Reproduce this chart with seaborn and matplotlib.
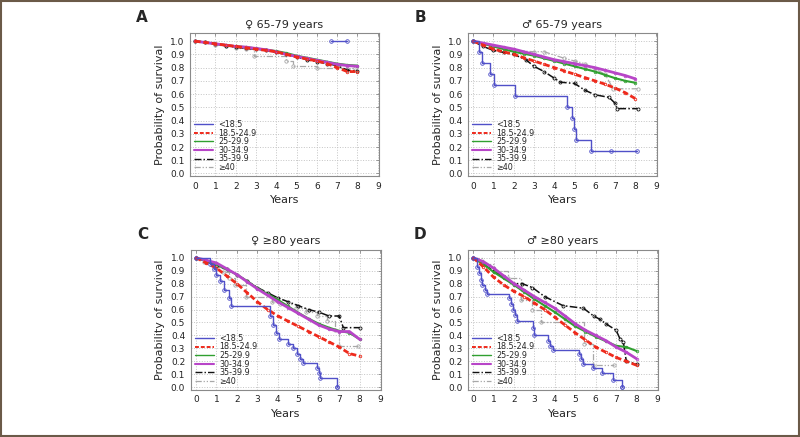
import matplotlib
matplotlib.use("Agg")
import matplotlib.pyplot as plt
from matplotlib.lines import Line2D
from matplotlib.patches import Rectangle
import seaborn as sns

# BMI groups, legend text
groups = ["<18.5", "18.5-24.9", "25-29.9", "30-34.9", "35-39.9", "\u226540"]

# shared half-year grid for the large groups
grid = [0.0, 0.5, 1.0, 1.5, 2.0, 2.5, 3.0, 3.5, 4.0, 4.5, 5.0, 5.5, 6.0, 6.5, 7.0, 7.5, 8.0]

# ---- A: women 65-79
a_blue_t = [6.7, 7.5]
a_blue_s = [1.0, 1.0]
a_red = [1.00, 0.99, 0.98, 0.97, 0.96, 0.95, 0.94, 0.93, 0.92, 0.90, 0.88, 0.865, 0.85, 0.83, 0.80, 0.77, 0.77]
a_green = [1.00, 0.99, 0.98, 0.97, 0.96, 0.955, 0.945, 0.935, 0.925, 0.91, 0.89, 0.875, 0.86, 0.845, 0.83, 0.82, 0.815]
a_magenta = [1.00, 0.99, 0.98, 0.97, 0.96, 0.955, 0.945, 0.935, 0.92, 0.90, 0.885, 0.87, 0.855, 0.84, 0.825, 0.815, 0.81]
a_black = [1.00, 0.99, 0.98, 0.965, 0.955, 0.945, 0.94, 0.93, 0.915, 0.90, 0.88, 0.86, 0.845, 0.83, 0.815, 0.78, 0.775]
a_gray_t = [0.0, 0.5, 1.0, 1.5, 2.0, 2.5, 2.9, 4.5, 4.8, 6.0, 7.9]
a_gray_s = [1.0, 0.99, 0.97, 0.96, 0.95, 0.94, 0.89, 0.85, 0.81, 0.795, 0.795]

# ---- B: men 65-79
b_blue_t = [0.0, 0.3, 0.42, 0.81, 1.04, 2.05, 4.64, 4.89, 4.97, 5.05, 5.83, 6.78, 8.08]
b_blue_s = [1.0, 0.917, 0.833, 0.75, 0.667, 0.583, 0.50, 0.417, 0.333, 0.25, 0.167, 0.167, 0.167]
b_red = [1.00, 0.97, 0.94, 0.92, 0.90, 0.875, 0.85, 0.825, 0.80, 0.775, 0.75, 0.725, 0.70, 0.675, 0.645, 0.61, 0.565]
b_green = [1.00, 0.98, 0.96, 0.94, 0.92, 0.905, 0.89, 0.87, 0.85, 0.83, 0.81, 0.79, 0.77, 0.745, 0.72, 0.70, 0.685]
b_magenta = [1.00, 0.985, 0.97, 0.955, 0.94, 0.92, 0.90, 0.88, 0.86, 0.845, 0.83, 0.815, 0.80, 0.78, 0.76, 0.74, 0.715]
b_black_t = [0.0, 0.5, 1.0, 1.5, 2.0, 2.6, 3.0, 3.5, 4.0, 4.3, 5.0, 5.5, 6.0, 6.7, 7.0, 7.1, 8.1]
b_black_s = [1.0, 0.96, 0.93, 0.915, 0.90, 0.86, 0.81, 0.77, 0.72, 0.69, 0.68, 0.63, 0.595, 0.575, 0.53, 0.49, 0.49]
b_gray_t = [0.0, 1.0, 2.0, 3.0, 3.5, 4.5, 5.0, 5.5, 6.0, 6.5, 6.9, 8.1]
b_gray_s = [1.0, 0.96, 0.93, 0.92, 0.92, 0.87, 0.85, 0.83, 0.79, 0.75, 0.64, 0.64]

# ---- C: women >=80
c_blue_t = [0.0, 0.7, 0.9, 1.0, 1.2, 1.35, 1.6, 1.7, 3.6, 3.75, 3.9, 4.05, 4.5, 4.75, 4.95, 5.1, 5.25, 5.9, 6.0, 6.05, 6.9, 6.9]
c_blue_s = [1.0, 0.95, 0.91, 0.87, 0.82, 0.75, 0.69, 0.63, 0.55, 0.48, 0.42, 0.37, 0.33, 0.30, 0.26, 0.22, 0.19, 0.15, 0.11, 0.07, 0.0, 0.0]
c_red = [1.00, 0.96, 0.92, 0.86, 0.80, 0.73, 0.66, 0.60, 0.55, 0.51, 0.47, 0.43, 0.39, 0.35, 0.31, 0.26, 0.24]
c_green = [1.00, 0.975, 0.95, 0.91, 0.87, 0.82, 0.765, 0.72, 0.675, 0.625, 0.575, 0.53, 0.49, 0.46, 0.435, 0.42, 0.37]
c_magenta = [1.00, 0.98, 0.96, 0.915, 0.87, 0.815, 0.76, 0.71, 0.66, 0.615, 0.57, 0.525, 0.48, 0.45, 0.43, 0.43, 0.37]
c_black_t = [0.0, 0.5, 1.0, 1.5, 2.0, 2.5, 3.0, 3.5, 4.0, 4.5, 5.0, 5.5, 6.0, 6.5, 7.0, 7.2, 8.0]
c_black_s = [1.0, 0.97, 0.94, 0.91, 0.87, 0.82, 0.77, 0.73, 0.69, 0.66, 0.63, 0.60, 0.58, 0.55, 0.55, 0.46, 0.46]
c_gray_t = [0.0, 0.4, 0.9, 1.3, 1.6, 1.9, 2.45, 3.7, 4.1, 4.9, 5.4, 5.9, 6.4, 6.8, 7.0, 7.9]
c_gray_s = [1.0, 0.97, 0.93, 0.89, 0.84, 0.79, 0.70, 0.66, 0.64, 0.61, 0.58, 0.55, 0.51, 0.44, 0.32, 0.32]

# ---- D: men >=80
d_blue_t = [0.0, 0.2, 0.28, 0.37, 0.45, 0.57, 0.7, 1.78, 1.87, 1.95, 2.03, 2.17, 2.92, 3.0, 3.67, 3.78, 3.9,
            5.2, 5.28, 5.37, 5.87, 6.3, 6.87, 7.3, 7.3]
d_blue_s = [1.0, 0.93, 0.88, 0.83, 0.79, 0.75, 0.72, 0.69, 0.64, 0.60, 0.56, 0.51, 0.46, 0.40, 0.36, 0.32, 0.29,
            0.26, 0.22, 0.18, 0.145, 0.11, 0.055, 0.0, 0.0]
d_red = [1.00, 0.93, 0.85, 0.79, 0.74, 0.70, 0.65, 0.60, 0.54, 0.48, 0.42, 0.365, 0.31, 0.27, 0.23, 0.20, 0.17]
d_green = [1.00, 0.95, 0.89, 0.84, 0.79, 0.735, 0.68, 0.63, 0.58, 0.525, 0.47, 0.43, 0.39, 0.355, 0.32, 0.31, 0.28]
d_magenta = [1.00, 0.97, 0.92, 0.86, 0.80, 0.75, 0.70, 0.655, 0.61, 0.55, 0.49, 0.44, 0.40, 0.36, 0.31, 0.27, 0.22]
d_black_t = [0.0, 0.5, 1.0, 1.5, 2.0, 2.4, 2.9, 3.5, 4.4, 5.4, 5.9, 6.2, 6.5, 7.0, 7.2, 7.35, 7.5, 8.0]
d_black_s = [1.0, 0.95, 0.90, 0.85, 0.80, 0.80, 0.77, 0.70, 0.63, 0.61, 0.55, 0.525, 0.49, 0.44, 0.37, 0.35, 0.20, 0.18]
d_gray_t = [0.0, 0.5, 1.0, 1.7, 2.35, 2.9, 3.3, 5.45, 5.85, 6.9]
d_gray_s = [1.0, 0.95, 0.90, 0.84, 0.67, 0.60, 0.50, 0.33, 0.17, 0.17]

colors = ["#5050c8", "#ee2a1c", "#30a030", "#b845c8", "#111111", "#a8a8a8"]
dashes = [(None, None), (2.0, 1.0), (None, None), (None, None), (5, 1.5, 1, 1.5), (5, 1.5, 1, 1.5, 1, 1.5)]
widths = [1.0, 2.0, 1.5, 2.0, 1.1, 0.9]
leg_widths = [1.0, 1.4, 1.0, 1.5, 1.0, 0.9]
msizes = [2.6, 1.8, 1.8, 1.8, 2.2, 2.4]

panels = [
    ("A", "\u2640 65-79 years", [0.2375, 0.597, 0.236, 0.327],
     [(a_blue_t, a_blue_s, True), (grid, a_red, False), (grid, a_green, False),
      (grid, a_magenta, False), (grid, a_black, False), (a_gray_t, a_gray_s, True)]),
    ("B", "\u2642 65-79 years", [0.585, 0.597, 0.236, 0.327],
     [(b_blue_t, b_blue_s, True), (grid, b_red, False), (grid, b_green, False),
      (grid, b_magenta, False), (b_black_t, b_black_s, False), (b_gray_t, b_gray_s, False)]),
    ("C", "\u2640 \u226580 years", [0.2385, 0.108, 0.238, 0.32],
     [(c_blue_t, c_blue_s, True), (grid, c_red, False), (grid, c_green, False),
      (grid, c_magenta, False), (c_black_t, c_black_s, False), (c_gray_t, c_gray_s, True)]),
    ("D", "\u2642 \u226580 years", [0.585, 0.108, 0.2375, 0.32],
     [(d_blue_t, d_blue_s, True), (grid, d_red, False), (grid, d_green, False),
      (grid, d_magenta, False), (d_black_t, d_black_s, False), (d_gray_t, d_gray_s, True)]),
]

sns.set_style("white")
plt.rcParams["font.family"] = ["DejaVu Sans"]

fig = plt.figure(figsize=(8, 4.37), dpi=100)
fig.patch.set_facecolor("white")

for letter, title, pos, series in panels:
    ax = fig.add_axes(pos)
    # draw larger groups first so blue ends up on top like the original
    order = [5, 4, 2, 3, 1, 0]
    for i in order:
        t, s, steps = series[i]
        kw = dict(color=colors[i], lw=widths[i])
        if dashes[i][0] is not None:
            kw["dashes"] = dashes[i]
        if steps:
            kw["drawstyle"] = "steps-post"
        sns.lineplot(x=t, y=s, ax=ax, estimator=None, sort=False, legend=False, **kw)
        # censor marks: small open circles
        ln = ax.lines[-1]
        ln.set_marker("o")
        ln.set_markersize(msizes[i])
        ln.set_markerfacecolor("none")
        ln.set_markeredgecolor(colors[i])
        ln.set_markeredgewidth(0.6)

    ax.set_xlim(-0.25, 9.05)
    ax.set_ylim(-0.02, 1.06)
    ax.set_xticks(range(0, 10))
    ax.set_yticks([i / 10 for i in range(11)])
    ax.set_yticklabels([f"{i / 10:.1f}" for i in range(11)])
    ax.grid(True, linestyle=":", color="#c4c4c4", linewidth=0.7)
    for sp in ax.spines.values():
        sp.set_color("#8a8a8a")
        sp.set_linewidth(0.8)
    ax.tick_params(direction="in", length=2, width=0.6, color="#888888",
                   top=True, right=True, labelsize=6.5, labelcolor="#222222", pad=4)
    ax.set_xlabel("Years", fontsize=8, labelpad=3)
    ax.set_ylabel("Probability of survival", fontsize=8, labelpad=4)
    ax.set_title(title, fontsize=8, pad=4)

    handles = []
    for i in range(6):
        h = Line2D([], [], color=colors[i], lw=leg_widths[i])
        if dashes[i][0] is not None:
            h.set_dashes(dashes[i])
        handles.append(h)
    ax.legend(handles, groups, loc="lower left", frameon=False, fontsize=5.8,
              handlelength=2.4, handletextpad=0.6, labelspacing=-0.05,
              borderaxespad=0.3, borderpad=0.2)

    bb = ax.get_position()
    fig.text(bb.x0 - 0.06, bb.y1 + 0.036, letter, fontsize=11, fontweight="bold",
             ha="center", va="center")

fig.patches.append(Rectangle((0.001, 0.002), 0.998, 0.996, transform=fig.transFigure,
                             fill=False, edgecolor="#6b5a48", linewidth=1.5))

fig.savefig("out.png", dpi=100)
